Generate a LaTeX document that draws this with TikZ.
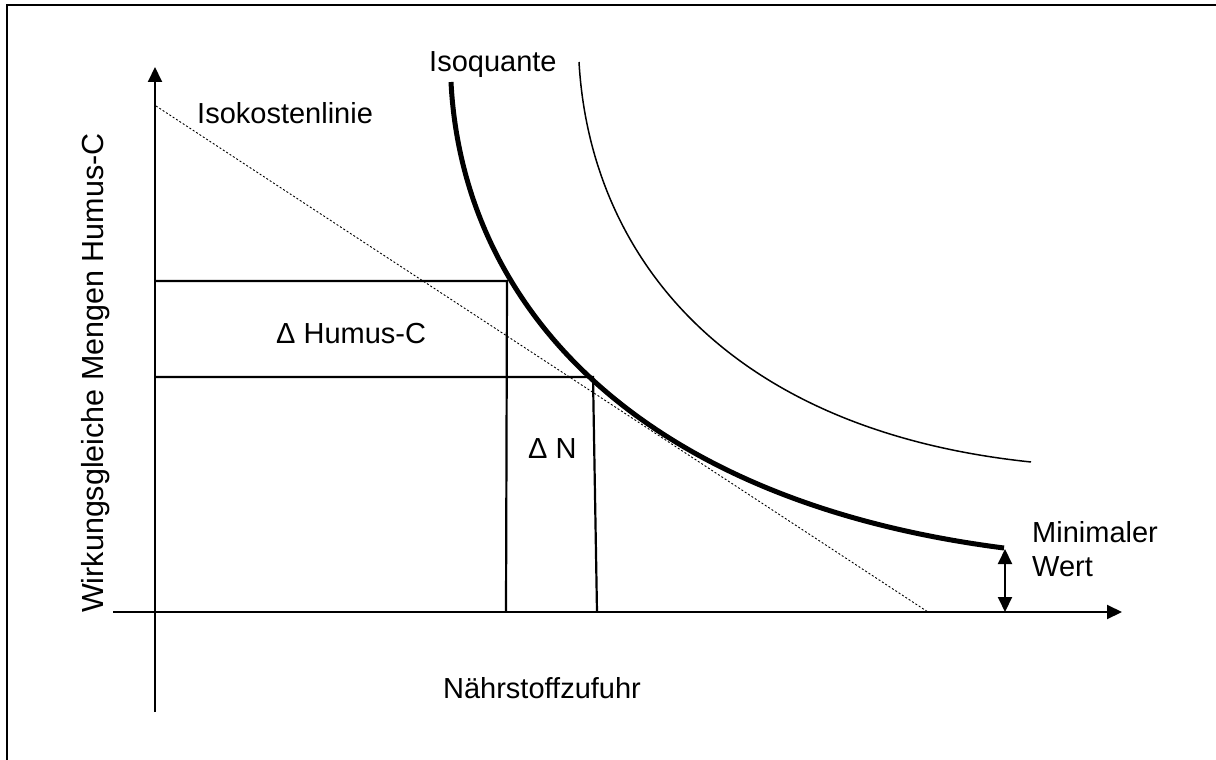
\documentclass[tikz,border=0pt]{standalone}
\usepackage{fontspec}
\setmainfont{Liberation Sans}
\usetikzlibrary{arrows.meta}
\tikzset{
  lbl/.style={font=\fontsize{29}{34}\selectfont, inner sep=0pt},
  axis/.style={line width=2pt, -{Triangle[length=15pt,width=14pt]}},
  guide/.style={line width=2.2pt},
  isoq/.style={line width=5pt},
  iso2/.style={line width=1.5pt},
  cost/.style={line width=0.9pt, dash pattern=on 2pt off 2pt},
  dbl/.style={line width=2pt, {Triangle[length=15pt,width=14pt]}-{Triangle[length=15pt,width=14pt]}}
}
\begin{document}
\begin{tikzpicture}[x=1pt,y=-1pt]
\useasboundingbox (0,0) rectangle (1216,760);
% frame
\draw[line width=2.2pt] (7,775) -- (7,5) -- (1230,5);
% axes
\coordinate (yb) at (155,712);
\coordinate (yt) at (155,67);
\coordinate (xl) at (113,612);
\coordinate (xr) at (1122,612);
\draw[axis] (yb) -- (yt);
\draw[axis] (xl) -- (xr);
% iso cost line
\coordinate (c1) at (156,106);
\coordinate (c2) at (928,612);
\draw[cost] (c1) -- (c2);
% guide lines
\coordinate (h1l) at (156,281);
\coordinate (p1) at (507,281);
\coordinate (p1b) at (506,612);
\coordinate (h2l) at (156,377);
\coordinate (p2) at (593,377);
\coordinate (p2b) at (597,612);
\draw[guide] (h1l) -- (p1) -- (p1b);
\draw[guide] (h2l) -- (p2) -- (p2b);
% isoquants
\coordinate (q1s) at (451,82);
\coordinate (q1e) at (1004,548);
\draw[isoq] (q1s) .. controls (462,300) and (630,500) .. (q1e);
\coordinate (q2s) at (579,62);
\coordinate (q2e) at (1031,462);
\draw[iso2] (q2s) .. controls (590,255) and (725,430) .. (q2e);
% minimal value arrow
\coordinate (mt) at (1005,549);
\coordinate (mb) at (1005,612);
\draw[dbl] (mt) -- (mb);
% labels
\node[lbl, anchor=base west] (lcost) at (197,123) {Isokostenlinie};
\node[lbl, anchor=base west] (lisoq) at (429,72) {Isoquante};
\node[lbl, anchor=base west] (lmin1) at (1032,542) {Minimaler};
\node[lbl, anchor=base west] (lmin2) at (1032,576) {Wert};
\node[lbl, anchor=base west] (ldh) at (276,343) {Δ Humus-C};
\node[lbl, anchor=base west] (ldn) at (528,458) {Δ N};
\node[lbl] (lx) at (542,688) {Nährstoffzufuhr};
\node[lbl, rotate=90, font=\fontsize{30.5}{34}\selectfont] (ly) at (96,373) {Wirkungsgleiche Mengen Humus-C};
\end{tikzpicture}
\end{document}
